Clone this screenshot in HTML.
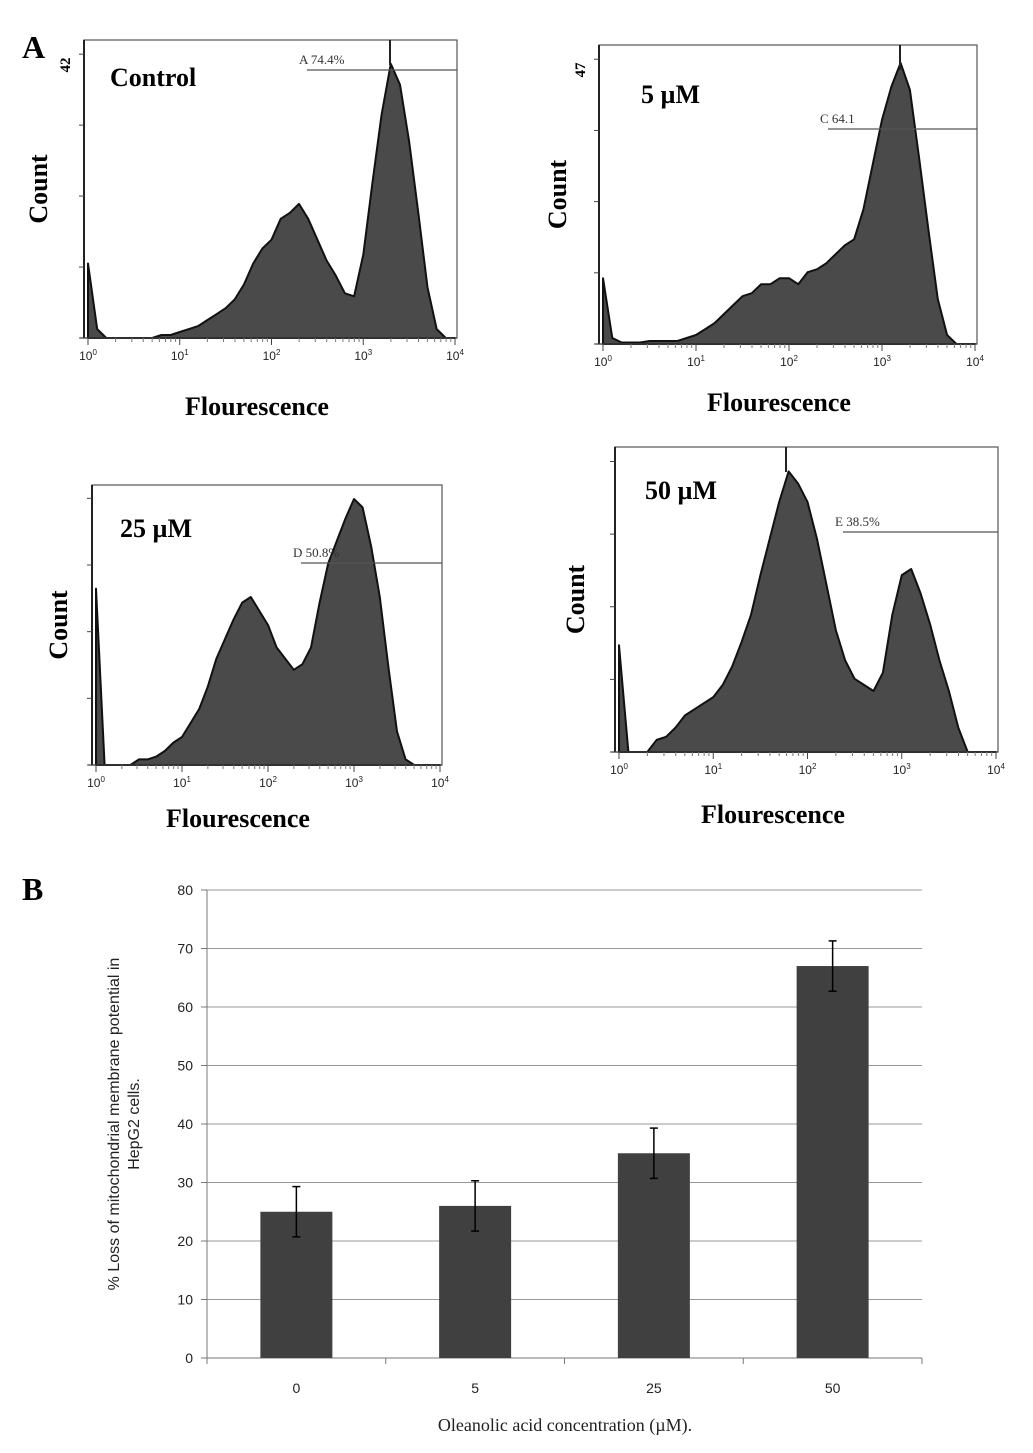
<!DOCTYPE html>
<html><head><meta charset="utf-8">
<style>
html,body{margin:0;padding:0;background:#fff;}
svg{display:block;}
.ser{font-family:"Liberation Serif",serif;font-weight:bold;}
.sans{font-family:"Liberation Sans",sans-serif;}
</style></head>
<body>
<svg id="fig" width="1033" height="1453" viewBox="0 0 1033 1453" xmlns="http://www.w3.org/2000/svg">
<text x="22" y="58" class="ser" font-size="32">A</text>
<text x="22" y="900" class="ser" font-size="32">B</text>
<g id="hists"></g>
<g id="bars"></g>
</svg>
<script>
// Histogram data: relative count per 0.1-decade bin from 10^0 to 10^4
const histControl=[0.25,0.03,0,0,0,0,0,0,0.01,0.01,0.02,0.03,0.04,0.06,0.08,0.10,0.13,0.18,0.25,0.30,0.33,0.40,0.42,0.45,0.40,0.33,0.26,0.21,0.15,0.14,0.28,0.52,0.75,0.92,0.85,0.66,0.42,0.17,0.03,0,0];
const hist5=[0.22,0.02,0.005,0.005,0.005,0.01,0.01,0.01,0.01,0.02,0.03,0.05,0.07,0.10,0.13,0.16,0.17,0.20,0.20,0.22,0.22,0.20,0.24,0.25,0.27,0.30,0.33,0.35,0.45,0.60,0.75,0.86,0.94,0.85,0.62,0.38,0.15,0.03,0,0,0];
const hist25=[0.63,0,0,0,0,0.02,0.02,0.03,0.05,0.08,0.10,0.15,0.20,0.28,0.38,0.45,0.52,0.58,0.60,0.55,0.50,0.42,0.38,0.34,0.36,0.42,0.58,0.72,0.80,0.88,0.95,0.92,0.78,0.60,0.35,0.12,0.02,0,0,0,0];
const hist50=[0.35,0,0,0,0.04,0.05,0.08,0.12,0.14,0.16,0.18,0.22,0.28,0.36,0.45,0.58,0.70,0.82,0.92,0.88,0.82,0.70,0.55,0.40,0.30,0.24,0.22,0.20,0.26,0.45,0.58,0.60,0.52,0.42,0.30,0.20,0.08,0,0,0,0];
const decadeLabels=["0","1","2","3","4"];
// Bar chart data
const barCategories=["0","5","25","50"];
const barValues=[25,26,35,67];
const barErrors=[4.3,4.3,4.3,4.3];
const yTicks=[0,10,20,30,40,50,60,70,80];

const NS="http://www.w3.org/2000/svg";
function mk(tag,attrs,parent,text){const e=document.createElementNS(NS,tag);for(const k in attrs)e.setAttribute(k,attrs[k]);if(text!==undefined)e.textContent=text;parent.appendChild(e);return e;}

const panels=[
 {id:"control",data:histControl,x0:84,x1:457,top:40,base:338,title:"Control",tx:110,ty:86,ymax:"42",gy:70,gx:307,gl:"A  74.4%",cx:38,fx:257,fy:415,vline:390},
 {id:"5um",data:hist5,x0:599,x1:977,top:45,base:344,title:"5 µM",tx:641,ty:103,ymax:"47",gy:129,gx:828,gl:"C 64.1",cx:557,fx:779,fy:411,vline:900},
 {id:"25um",data:hist25,x0:92,x1:442,top:485,base:765,title:"25 µM",tx:120,ty:537,ymax:"",gy:563,gx:301,gl:"D 50.8%",cx:58,fx:238,fy:827,vline:null},
 {id:"50um",data:hist50,x0:615,x1:998,top:447,base:752,title:"50 µM",tx:645,ty:499,ymax:"",gy:532,gx:843,gl:"E 38.5%",cx:575,fx:773,fy:823,vline:786}
];
const hg=document.getElementById("hists");
panels.forEach(p=>{
 const g=mk("g",{},hg);
 
 
 const ax0=p.x0+4, ax1=p.x1-2, h=p.base-p.top;
 const xs=v=>ax0+(v/4)*(ax1-ax0);
 const ys=v=>p.base-v*h;
 const box=mk("rect",{x:p.x0,y:p.top,width:p.x1-p.x0,height:h,fill:"none",stroke:"#555","stroke-width":1.2},g);
 
 
 // area
 let d="M"+xs(0)+","+p.base;
 p.data.forEach((v,i)=>{d+=" L"+xs(i*0.1).toFixed(1)+","+ys(v).toFixed(1);});
 d+=" L"+xs(4)+","+p.base+" Z";
 const ar=mk("path",{d:d,fill:"#4a4a4a",stroke:"#111","stroke-width":2,"stroke-linejoin":"round"},g);
 
 
 mk("line",{x1:p.x0,y1:p.top,x2:p.x0,y2:p.base,stroke:"#222","stroke-width":2},g);
 mk("line",{x1:p.x0-4,y1:p.base,x2:p.x1,y2:p.base,stroke:"#444","stroke-width":1.2},g);
 for(let k=0;k<=4;k++){mk("line",{x1:p.x0-5,y1:p.base-k*h/4.2,x2:p.x0,y2:p.base-k*h/4.2,stroke:"#444"},g);}
 decadeLabels.forEach((lab,i)=>{
  const x=xs(i);
  mk("line",{x1:x,y1:p.base,x2:x,y2:p.base+7,stroke:"#444"},g);
  for(let m=2;m<10&&i<4;m++){const xm=xs(i+Math.log10(m));mk("line",{x1:xm,y1:p.base,x2:xm,y2:p.base+4,stroke:"#777"},g);}
  const t=mk("text",{x:x,y:p.base+22,"text-anchor":"middle","font-family":"Liberation Sans,sans-serif","font-size":12,fill:"#222"},g);
  
  
  t.textContent="10";
  mk("tspan",{dy:-5,"font-size":8},t,lab);
 });
 if(p.vline){mk("line",{x1:p.vline,y1:p.top,x2:p.vline,y2:p.top+25,stroke:"#222","stroke-width":2},g);}
 mk("line",{x1:p.gx,y1:p.gy,x2:p.x1,y2:p.gy,stroke:"#555","stroke-width":1.2},g);
 const gl=mk("text",{x:p.gx-8,y:p.gy-6,"font-family":"Liberation Serif,serif","font-size":13,fill:"#333"},g,p.gl);
 
 
 const tt=mk("text",{x:p.tx,y:p.ty,class:"ser","font-size":26},g,p.title);
 
 
 if(p.ymax){const ym=mk("text",{x:0,y:0,class:"ser","font-size":15,"text-anchor":"middle",transform:"translate("+(p.x0-14)+","+(p.top+25)+") rotate(-90)"},g,p.ymax);}
 const cy=(p.top+p.base)/2;
 const ct=mk("text",{x:0,y:0,class:"ser","font-size":26,"text-anchor":"middle",transform:"translate("+(p.cx+9)+","+cy+") rotate(-90)"},g,"Count");
 
 
 const ft=mk("text",{x:p.fx,y:p.fy,class:"ser","font-size":26,"text-anchor":"middle"},g,"Flourescence");
 
 
});

// Bar chart
const bg=document.getElementById("bars");
const L=207,R=922,T=890,B=1358;
const yScale=v=>B-(v/80)*(B-T);
const band=(R-L)/barCategories.length;
const xCenter=i=>L+band*(i+0.5);
yTicks.forEach(v=>{
 const y=yScale(v);
 const gl=mk("line",{x1:L,y1:y,x2:R,y2:y,stroke:v===0?"#777":"#999","stroke-width":1},bg);
 
 
 mk("line",{x1:L-6,y1:y,x2:L,y2:y,stroke:"#777"},bg);
 const t=mk("text",{x:L-14,y:y+5,"text-anchor":"end",class:"sans","font-size":14,fill:"#222"},bg,String(v));
 
 
});
mk("line",{x1:L,y1:T,x2:L,y2:B,stroke:"#777"},bg);
for(let i=0;i<=barCategories.length;i++){mk("line",{x1:L+band*i,y1:B,x2:L+band*i,y2:B+6,stroke:"#777"},bg);}
barCategories.forEach((c,i)=>{
 const x=xCenter(i),w=72,v=barValues[i],e=barErrors[i];
 const r=mk("rect",{x:x-w/2,y:yScale(v),width:w,height:B-yScale(v),fill:"#404040"},bg);
 
 
 const eg=mk("g",{stroke:"#000","stroke-width":1.5},bg);
 
 
 mk("line",{x1:x,y1:yScale(v+e),x2:x,y2:yScale(v-e)},eg);
 mk("line",{x1:x-4,y1:yScale(v+e),x2:x+4,y2:yScale(v+e)},eg);
 mk("line",{x1:x-4,y1:yScale(v-e),x2:x+4,y2:yScale(v-e)},eg);
 const t=mk("text",{x:x,y:B+35,"text-anchor":"middle",class:"sans","font-size":14,fill:"#222"},bg,c);
 
 
});
const xt=mk("text",{x:565,y:1431,"text-anchor":"middle","font-family":"Liberation Serif,serif","font-size":18,fill:"#222"},bg,"Oleanolic acid concentration (µM).");


const yt=mk("text",{x:0,y:0,"text-anchor":"middle",class:"sans","font-size":16,fill:"#222",transform:"translate(119,1124) rotate(-90)"},bg,"% Loss of mitochondrial membrane potential in");


const yt2=mk("text",{x:0,y:0,"text-anchor":"middle",class:"sans","font-size":16,fill:"#222",transform:"translate(139,1124) rotate(-90)"},bg,"HepG2 cells.");


</script>
</body></html>
